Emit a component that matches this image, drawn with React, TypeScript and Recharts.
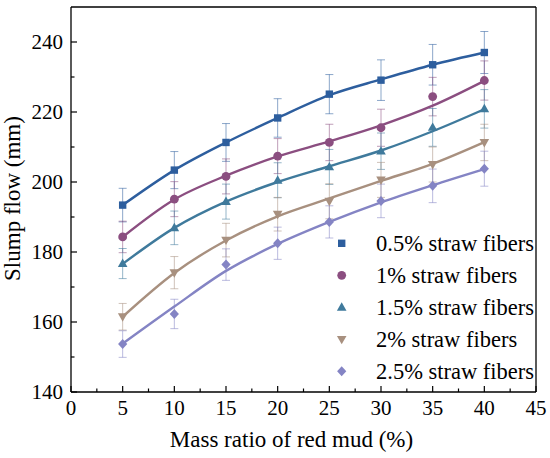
import {
  ComposedChart,
  Line,
  Scatter,
  ErrorBar,
  XAxis,
  YAxis,
  ReferenceLine,
  Label,
} from "recharts";

const massRatio = [5, 10, 15, 20, 25, 30, 35, 40];

const fiber05 = [193.4, 203.4, 211.3, 218.3, 225.1, 229.1, 233.5, 237.0];
const fiber05Err = [4.8, 5.3, 5.4, 5.5, 5.6, 5.8, 5.8, 6.0];
const fiber05Fit = [193.4, 203.4, 211.3, 218.3, 224.8, 229.3, 233.5, 237.0];

const fiber1 = [184.3, 195.1, 201.6, 207.4, 211.3, 215.5, 224.4, 229.0];
const fiber1Err = [4.5, 5.0, 5.0, 5.0, 5.2, 5.3, 5.5, 5.6];
const fiber1Fit = [184.3, 195.0, 201.8, 207.3, 211.6, 216.2, 221.8, 228.9];

const fiber15 = [176.7, 186.9, 194.4, 200.5, 204.3, 208.8, 215.6, 220.9];
const fiber15Err = [4.3, 4.8, 5.0, 5.0, 5.0, 5.2, 5.4, 5.5];
const fiber15Fit = [176.6, 186.9, 194.4, 200.0, 204.5, 209.0, 214.5, 220.8];

const fiber2 = [161.5, 174.1, 183.4, 190.8, 194.5, 200.6, 205.0, 211.3];
const fiber2Err = [3.8, 4.6, 4.8, 4.8, 5.0, 5.0, 5.0, 5.2];
const fiber2Fit = [161.5, 174.0, 183.3, 190.2, 195.3, 200.3, 205.2, 211.4];

const fiber25 = [153.7, 162.3, 176.4, 182.5, 188.6, 194.6, 198.9, 203.8];
const fiber25Err = [3.8, 4.2, 4.5, 4.6, 4.6, 4.8, 4.8, 5.0];
const fiber25Fit = [153.8, 164.4, 174.6, 182.3, 188.6, 194.2, 199.1, 203.7];

const xTicks = [0, 2.5, 5, 7.5, 10, 12.5, 15, 17.5, 20, 22.5, 25, 27.5, 30, 32.5, 35, 37.5, 40, 42.5, 45];
const yTicks = [140, 150, 160, 170, 180, 190, 200, 210, 220, 230, 240];

const FONT = "'Liberation Serif', 'Times New Roman', serif";

type Kind = "square" | "circle" | "triangle" | "triangleDown" | "diamond";

const series: { key: string; name: string; kind: Kind; color: string; values: number[]; err: number[]; fit: number[] }[] = [
  { key: "s05", name: "0.5% straw fibers", kind: "square", color: "#2D5E9E", values: fiber05, err: fiber05Err, fit: fiber05Fit },
  { key: "s1", name: "1% straw fibers", kind: "circle", color: "#8B4E80", values: fiber1, err: fiber1Err, fit: fiber1Fit },
  { key: "s15", name: "1.5% straw fibers", kind: "triangle", color: "#3F7A9C", values: fiber15, err: fiber15Err, fit: fiber15Fit },
  { key: "s2", name: "2% straw fibers", kind: "triangleDown", color: "#A8907F", values: fiber2, err: fiber2Err, fit: fiber2Fit },
  { key: "s25", name: "2.5% straw fibers", kind: "diamond", color: "#8484C4", values: fiber25, err: fiber25Err, fit: fiber25Fit },
];

const rows = massRatio.map((x, i) => {
  const row: Record<string, number> = { x };
  series.forEach((s) => {
    row[s.key] = s.values[i];
    row[s.key + "Err"] = s.err[i];
    row[s.key + "Fit"] = s.fit[i];
  });
  return row;
});

function marker(kind: Kind, color: string, cx: number, cy: number) {
  switch (kind) {
    case "square":
      return <rect x={cx - 3.7} y={cy - 3.7} width={7.4} height={7.4} fill={color} />;
    case "circle":
      return <circle cx={cx} cy={cy} r={4.4} fill={color} />;
    case "triangle":
      return <polygon points={`${cx},${cy - 5} ${cx + 4.8},${cy + 3.4} ${cx - 4.8},${cy + 3.4}`} fill={color} />;
    case "triangleDown":
      return <polygon points={`${cx},${cy + 5} ${cx + 4.8},${cy - 3.4} ${cx - 4.8},${cy - 3.4}`} fill={color} />;
    default:
      return <polygon points={`${cx},${cy - 5} ${cx + 4.6},${cy} ${cx},${cy + 5} ${cx - 4.6},${cy}`} fill={color} />;
  }
}

function XTick({ x, y, payload }: any) {
  const v = payload.value as number;
  const major = v % 5 === 0;
  return (
    <g>
      <line x1={x} x2={x} y1={y} y2={y - (major ? 6 : 3.5)} stroke="#000" strokeWidth={1.2} />
      {major && (
        <text x={x} y={y + 23} textAnchor="middle" fontFamily={FONT} fontSize={21} fill="#000">
          {v}
        </text>
      )}
    </g>
  );
}

function YTick({ x, y, payload }: any) {
  const v = payload.value as number;
  const major = v % 20 === 0;
  return (
    <g>
      <line x1={x} x2={x + (major ? 6 : 3.5)} y1={y} y2={y} stroke="#000" strokeWidth={1.2} />
      {major && (
        <text x={x - 8} y={y + 7} textAnchor="end" fontFamily={FONT} fontSize={21} fill="#000">
          {v}
        </text>
      )}
    </g>
  );
}

function XTitle({ viewBox }: any) {
  return (
    <text x={viewBox.x + viewBox.width / 2 - 12} y={viewBox.y + 55} textAnchor="middle" fontFamily={FONT} fontSize={23} fill="#000">
      Mass ratio of red mud (%)
    </text>
  );
}

function YTitle({ viewBox }: any) {
  const cx = 20;
  const cy = viewBox.y + viewBox.height / 2 - 1;
  return (
    <text x={cx} y={cy} transform={`rotate(-90 ${cx} ${cy})`} textAnchor="middle" fontFamily={FONT} fontSize={23} fill="#000">
      Slump flow (mm)
    </text>
  );
}

export default function App() {
  return (
    <div style={{ position: "absolute", left: 0, top: 0, width: 550, height: 458, background: "#fff" }}>
      <ComposedChart width={550} height={458} data={rows} margin={{ top: 7, right: 14, bottom: 0, left: 0 }}>
        <XAxis
          dataKey="x"
          type="number"
          domain={[0, 45]}
          ticks={xTicks}
          interval={0}
          height={66}
          tickSize={0}
          tickMargin={0}
          tickLine={false}
          axisLine={{ stroke: "#000", strokeWidth: 1.3 }}
          tick={<XTick />}
        >
          <Label content={<XTitle />} />
        </XAxis>
        <YAxis
          type="number"
          domain={[140, 250]}
          ticks={yTicks}
          interval={0}
          width={71}
          tickSize={0}
          tickMargin={0}
          tickLine={false}
          axisLine={{ stroke: "#000", strokeWidth: 1.3 }}
          tick={<YTick />}
        >
          <Label content={<YTitle />} />
        </YAxis>
        <ReferenceLine y={250} stroke="#000" strokeWidth={1.3} />
        <ReferenceLine x={45} stroke="#000" strokeWidth={1.3} />

        {series.map((s) => (
          <Scatter key={s.key + "eb"} dataKey={s.key} shape={() => <g />} isAnimationActive={false}>
            <ErrorBar dataKey={s.key + "Err"} direction="y" width={4} stroke={s.color} strokeOpacity={0.55} strokeWidth={1} />
          </Scatter>
        ))}

        {series.map((s) => (
          <Line
            key={s.key + "fit"}
            dataKey={s.key + "Fit"}
            type="monotone"
            stroke={s.color}
            strokeWidth={2.4}
            dot={false}
            activeDot={false}
            isAnimationActive={false}
          />
        ))}

        {series.map((s) => (
          <Scatter
            key={s.key + "pt"}
            dataKey={s.key}
            shape={(p: any) => marker(s.kind, s.color, p.cx, p.cy)}
            isAnimationActive={false}
          />
        ))}
      </ComposedChart>

      <svg width={550} height={458} style={{ position: "absolute", left: 0, top: 0, pointerEvents: "none" }}>
        {series.map((s, i) => (
          <g key={s.key}>
            {marker(s.kind, s.color, 341.7, 243.3 + i * 32)}
            <text x={376} y={243.3 + i * 32 + 7.5} fontFamily={FONT} fontSize={22.5} fill="#000">
              {s.name}
            </text>
          </g>
        ))}
      </svg>
    </div>
  );
}
